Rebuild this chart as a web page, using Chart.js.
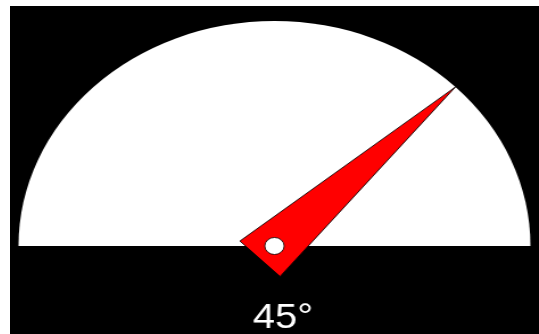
<!doctype html>
<html lang="en">

<head>
    <meta charset="utf-8">
    <title>Gauge</title>
    <style>
        * {
            margin: 0;
            padding: 0;
        }

        body {
            background: #fff;
            overflow: hidden;
            padding: 6px 0 0 10px;
        }

        #gauge {
            display: block;
            background: #000;
        }
    </style>
</head>

<body>
    <!-- buffer is narrower than the box, so the dial is stretched sideways like the original -->
    <canvas id="gauge" width="465" height="328" style="width:529px;height:328px"></canvas>

    <script src="https://cdn.jsdelivr.net/npm/chart.js"></script>
    <script>
        // setup
        const categories = ['Dial'];
        const dialValues = [180];
        const needleDegrees = [45];
        const readoutLabels = ['45°'];

        // needle + readout drawn on top of the half pie
        const needlePlugin = {
            id: 'needle',
            afterDatasetsDraw(chart) {
                const arc = chart.getDatasetMeta(0).data[0];
                const ctx = chart.ctx;
                const cx = arc.x;
                const cy = arc.y;
                const r = arc.outerRadius;
                const a = -needleDegrees[0] * Math.PI / 180;

                ctx.save();
                ctx.translate(cx, cy);
                ctx.rotate(a);
                ctx.beginPath();
                ctx.moveTo(r, 0);
                ctx.lineTo(-18, -25);
                ctx.lineTo(-18, 25);
                ctx.closePath();
                ctx.fillStyle = '#ff0000';
                ctx.fill();
                ctx.lineWidth = 0.8;
                ctx.strokeStyle = '#000';
                ctx.stroke();
                ctx.restore();

                ctx.save();
                ctx.beginPath();
                ctx.arc(cx, cy, 8.5, 0, Math.PI * 2);
                ctx.fillStyle = '#fff';
                ctx.fill();
                ctx.lineWidth = 0.8;
                ctx.strokeStyle = '#000';
                ctx.stroke();

                ctx.fillStyle = '#fff';
                ctx.font = '35px "Liberation Sans", Arial, sans-serif';
                ctx.textAlign = 'center';
                ctx.textBaseline = 'alphabetic';
                ctx.fillText(readoutLabels[0], cx + 7.5, cy + 82);
                ctx.restore();
            }
        };

        const data = {
            labels: categories,
            datasets: [{
                data: dialValues,
                backgroundColor: ['#ffffff'],
                borderWidth: 0,
                hoverOffset: 0
            }]
        };

        // config
        const config = {
            type: 'doughnut',
            data,
            options: {
                responsive: false,
                devicePixelRatio: 1,
                animation: false,
                cutout: 0,
                rotation: -90,
                circumference: 180,
                events: [],
                layout: {
                    padding: { left: 7.5, right: 7.5, top: 15, bottom: 88 }
                },
                plugins: {
                    legend: { display: false },
                    tooltip: { enabled: false }
                }
            },
            plugins: [needlePlugin]
        };

        // render init block
        const myChart = new Chart(document.getElementById('gauge'), config);
    </script>
</body>

</html>
